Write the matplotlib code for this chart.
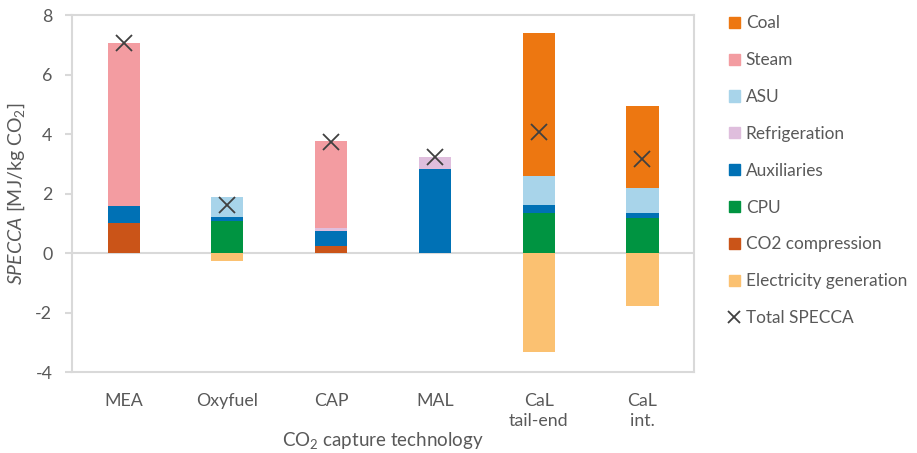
import matplotlib
matplotlib.use("Agg")
import matplotlib.pyplot as plt
from matplotlib.patches import Patch
from matplotlib.lines import Line2D
import numpy as np

plt.rcParams['font.family'] = ['Lato', 'DejaVu Sans']
plt.rcParams['mathtext.fontset'] = 'custom'
plt.rcParams['mathtext.rm'] = 'Lato'
plt.rcParams['mathtext.it'] = 'Lato:italic'
plt.rcParams['axes.unicode_minus'] = False

#-- data (MJ/kg CO2)
techs = ['MEA', 'Oxyfuel', 'CAP', 'MAL', 'CaL\ntail-end', 'CaL\nint.']
co2_compression = [1.00, 0.00, 0.25, 0.00, 0.00, 0.00]
cpu = [0.00, 1.06, 0.00, 0.00, 1.33, 1.17]
auxiliaries = [0.57, 0.14, 0.49, 2.82, 0.28, 0.16]
refrigeration = [0.00, 0.00, 0.09, 0.40, 0.00, 0.00]
asu = [0.00, 0.68, 0.00, 0.00, 0.97, 0.84]
steam = [5.50, 0.00, 2.92, 0.00, 0.00, 0.00]
coal = [0.00, 0.00, 0.00, 0.00, 4.81, 2.76]
elec_gen = [0.00, -0.28, 0.00, 0.00, -3.33, -1.78]
total = [7.07, 1.62, 3.74, 3.22, 4.06, 3.15]

grey = '#595959'
fs = 12.8
cols = {'Coal': '#ED7711', 'Steam': '#F39CA1', 'ASU': '#A8D4EA',
        'Refrigeration': '#DFBEDD', 'Auxiliaries': '#0071B5', 'CPU': '#009441',
        'CO2 compression': '#CA5418', 'Electricity generation': '#FBC171'}

fig = plt.figure(figsize=(9.17, 4.53), dpi=100)
ax = fig.add_axes([0.0782, 0.1788, 0.679, 0.788])

x = np.arange(len(techs))
w = 0.31
bottom = np.zeros(len(techs))
# stack order from bottom up
for name, vals in [('CO2 compression', co2_compression), ('CPU', cpu),
                   ('Auxiliaries', auxiliaries), ('Refrigeration', refrigeration),
                   ('ASU', asu), ('Steam', steam), ('Coal', coal)]:
    v = np.array(vals)
    ax.bar(x, v, w, bottom=bottom, color=cols[name], zorder=2)
    bottom += v
ax.bar(x, elec_gen, w, color=cols['Electricity generation'], zorder=2)
ax.plot(x, total, ls='none', marker='x', ms=11, mew=1.3, color='#404040', zorder=3)

ax.axhline(0, color='#D9D9D9', lw=1.5, zorder=1)
ax.set_xlim(-0.5, len(techs) - 0.5)
ax.set_ylim(-4, 8)
ax.set_yticks(np.arange(-4, 9, 2))
ax.set_xticks(x)
ax.set_xticklabels(techs, va='top', linespacing=1.3)
for s in ax.spines.values():
    s.set_color('#D9D9D9')
    s.set_linewidth(1.5)
ax.tick_params(axis='x', length=0, pad=15, colors=grey, labelsize=fs)
ax.tick_params(axis='y', length=5, width=1.5, color='#D9D9D9', labelcolor=grey, labelsize=fs, pad=9)

ax.set_ylabel(r'$\it{SPECCA}$ [MJ/kg CO$_2$]', color=grey, fontsize=14, labelpad=6)
ax.set_xlabel(r'CO$_2$ capture technology', color=grey, fontsize=13.5, labelpad=1)

handles = [Patch(color=cols[k]) for k in cols]
labels = list(cols.keys())
handles.append(Line2D([], [], ls='none', marker='x', ms=9, mew=1.3, color='#404040'))
labels.append('Total SPECCA')
leg = fig.legend(handles, labels, loc='upper left', bbox_to_anchor=(0.795, 0.966),
                 frameon=False, fontsize=12.4, labelspacing=1.21, handlelength=0.62,
                 handleheight=0.62, handletextpad=0.35, borderpad=0, borderaxespad=0)
for t in leg.get_texts():
    t.set_color(grey)

fig.savefig('out.png', dpi=100)
